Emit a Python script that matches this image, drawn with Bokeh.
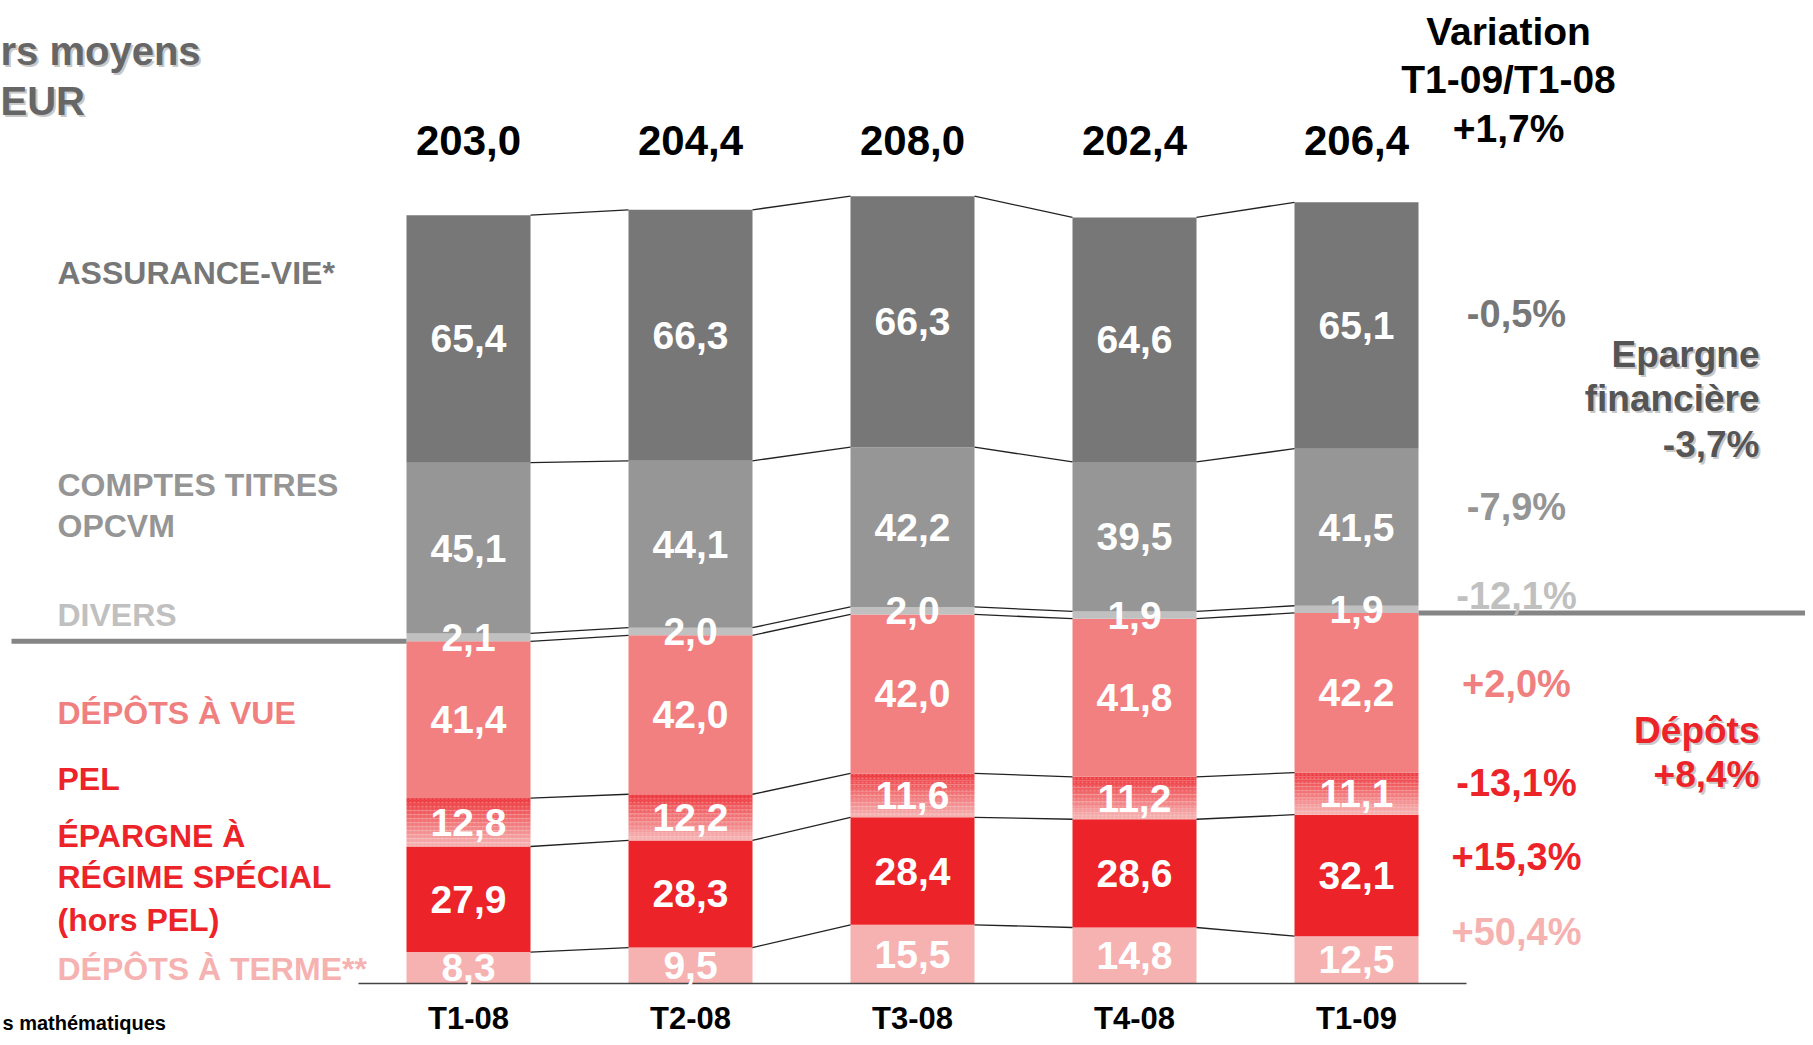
from bokeh.plotting import figure
from bokeh.models import ColumnDataSource, Range1d
from bokeh.core.properties import value
from bokeh.embed import file_html
from bokeh.resources import INLINE

# ---------------- data ----------------
quarters = ["T1-08", "T2-08", "T3-08", "T4-08", "T1-09"]
totals = [203.0, 204.4, 208.0, 202.4, 206.4]
depots_terme = [8.3, 9.5, 15.5, 14.8, 12.5]
epargne_speciale = [27.9, 28.3, 28.4, 28.6, 32.1]
pel = [12.8, 12.2, 11.6, 11.2, 11.1]
depots_vue = [41.4, 42.0, 42.0, 41.8, 42.2]
divers = [2.1, 2.0, 2.0, 1.9, 1.9]
comptes_titres = [45.1, 44.1, 42.2, 39.5, 41.5]
assurance_vie = [65.4, 66.3, 66.3, 64.6, 65.1]

series_names = ["DÉPÔTS À TERME**", "ÉPARGNE À RÉGIME SPÉCIAL (hors PEL)", "PEL",
                "DÉPÔTS À VUE", "DIVERS", "COMPTES TITRES OPCVM", "ASSURANCE-VIE*"]
series_values = [depots_terme, epargne_speciale, pel, depots_vue, divers,
                 comptes_titres, assurance_vie]
series_variation = ["+50,4%", "+15,3%", "-13,1%", "+2,0%", "-12,1%", "-7,9%", "-0,5%"]
total_variation = "+1,7%"
epargne_fin_variation = "-3,7%"
depots_variation = "+8,4%"

# ---------------- styling ----------------
series_colors = ["#f6b1b1", "#ec2329", None, "#f28080", "#c0c0c0", "#969696", "#777777"]
label_colors = ["#f6b1b1", "#ec2329", "#ec2329", "#f08080", "#c0c0c0", "#959595", "#777777"]
RED = "#ec2329"
W, H = 1805, 1037                 # figure size (fits the window with the page margin)
PXU_X, PXU_Y = 222.0, 3.785
OX, OY = 468.0, 983.0             # pixel position of (x=0, y=0)
X0, X1 = (0 - OX) / PXU_X, (W - OX) / PXU_X
Y1, Y0 = OY / PXU_Y, (OY - H) / PXU_Y
BAR_W = 124 / PXU_X

def sx(px):
    return (px - OX) / PXU_X

def sy(py):
    return (OY - py) / PXU_Y

BOLD = value("Liberation Sans")

p = figure(width=W, height=H, x_range=Range1d(X0, X1), y_range=Range1d(Y0, Y1),
           output_backend="svg", toolbar_location=None, min_border=0)
p.axis.visible = False
p.grid.visible = False
p.outline_line_color = None
p.background_fill_color = "white"
p.border_fill_color = "white"

xs = list(range(len(quarters)))

# cumulative stacks
bottoms, tops = [], []
run = [0.0] * len(quarters)
for vals in series_values:
    b = run[:]
    t = [a + v for a, v in zip(run, vals)]
    bottoms.append(b)
    tops.append(t)
    run = t

# ---------------- bars ----------------
def lerp(c1, c2, f):
    a = [int(c1[i:i + 2], 16) for i in (1, 3, 5)]
    b = [int(c2[i:i + 2], 16) for i in (1, 3, 5)]
    return "#%02x%02x%02x" % tuple(round(a[k] + (b[k] - a[k]) * f) for k in range(3))

for k, vals in enumerate(series_values):
    if series_colors[k] is not None:
        src = ColumnDataSource(dict(x=xs, bottom=bottoms[k], top=tops[k]))
        p.vbar(x="x", width=BAR_W, bottom="bottom", top="top", source=src,
               fill_color=series_colors[k], line_color=None)
    else:
        n = 12
        for j in range(n):
            bb = [b + (t - b) * j / n for b, t in zip(bottoms[k], tops[k])]
            tt = [b + (t - b) * (j + 1) / n for b, t in zip(bottoms[k], tops[k])]
            col = lerp("#f6b4b4", "#ee3a3f", (j + 0.5) / n)
            src = ColumnDataSource(dict(x=xs, bottom=bb, top=tt))
            p.vbar(x="x", width=BAR_W, bottom="bottom", top="top", source=src,
                   fill_color=col, line_color=None, hatch_pattern="dot",
                   hatch_color="#ffffff", hatch_alpha=0.22, hatch_scale=4)

# connector lines between bars
cx0, cy0, cx1, cy1 = [], [], [], []
for k in range(len(series_values)):
    for i in range(len(quarters) - 1):
        cx0.append(xs[i] + BAR_W / 2)
        cy0.append(tops[k][i])
        cx1.append(xs[i + 1] - BAR_W / 2)
        cy1.append(tops[k][i + 1])
p.segment(x0=cx0, y0=cy0, x1=cx1, y1=cy1, line_color="#222222", line_width=1.3)

# baseline
p.segment(x0=[sx(358)], y0=[0], x1=[sx(1466)], y1=[0], line_color="#444444", line_width=1.6)

# grey separator between financial savings and deposits
dep_top = tops[3]
p.segment(x0=[sx(11), xs[-1] + BAR_W / 2], y0=[dep_top[0], dep_top[-1]],
          x1=[xs[0] - BAR_W / 2, X1], y1=[dep_top[0], dep_top[-1]],
          line_color="#858585", line_width=5)

# ---------------- value labels in bars ----------------
def fmt(v):
    return ("%.1f" % v).replace(".", ",")

lx, ly, lt = [], [], []
for k, vals in enumerate(series_values):
    for i, v in enumerate(vals):
        lx.append(xs[i])
        ly.append((bottoms[k][i] + tops[k][i]) / 2)
        lt.append(fmt(v))
p.text(x=lx, y=ly, text=lt, text_color="white", text_font=BOLD,
       text_font_style="bold", text_font_size="39px", text_align="center",
       text_baseline="middle")

# totals above bars
p.text(x=xs, y=[sy(140)] * len(xs), text=[fmt(t) for t in totals], text_color="black",
       text_font=BOLD, text_font_style="bold", text_font_size="42px",
       text_align="center", text_baseline="middle")

# quarter labels
p.text(x=xs, y=[sy(1018)] * len(xs), text=quarters, text_color="black",
       text_font=BOLD, text_font_style="bold", text_font_size="31px",
       text_align="center", text_baseline="middle")

# ---------------- left category labels ----------------
left_lines = [
    ("ASSURANCE-VIE*", 272, label_colors[6]),
    ("COMPTES TITRES", 484, label_colors[5]),
    ("OPCVM", 525, label_colors[5]),
    ("DIVERS", 614, label_colors[4]),
    ("DÉPÔTS À VUE", 712, label_colors[3]),
    ("PEL", 778, label_colors[2]),
    ("ÉPARGNE À", 835, label_colors[1]),
    ("RÉGIME SPÉCIAL", 876, label_colors[1]),
    ("(hors PEL)", 919, label_colors[1]),
    ("DÉPÔTS À TERME**", 968, label_colors[0]),
]
p.text(x=[sx(57)] * len(left_lines), y=[sy(l[1]) for l in left_lines],
       text=[l[0] for l in left_lines], text_color=[l[2] for l in left_lines],
       text_font=BOLD, text_font_style="bold", text_font_size="32px",
       text_align="left", text_baseline="middle")

# ---------------- right variation column ----------------
var_y = [931, 856, 782, 683, 595, 506, 313]
p.text(x=[sx(1516)] * len(var_y), y=[sy(v) for v in var_y], text=series_variation,
       text_color=label_colors, text_font=BOLD, text_font_style="bold",
       text_font_size="38px", text_align="center", text_baseline="middle")

head = [("Variation", 31), ("T1-09/T1-08", 79), (total_variation, 128)]
p.text(x=[sx(1508)] * 3, y=[sy(h[1]) for h in head], text=[h[0] for h in head],
       text_color="black", text_font=BOLD, text_font_style="bold",
       text_font_size="39px", text_align="center", text_baseline="middle")

# ---------------- shadowed annotations ----------------
def shadow_text(lines, color, size, align, x_px):
    for dx, dy, col in ((2, 2, "#c8c8c8"), (0, 0, color)):
        p.text(x=[sx(x_px + dx)] * len(lines), y=[sy(l[1] + dy) for l in lines],
               text=[l[0] for l in lines], text_color=col, text_font=BOLD,
               text_font_style="bold", text_font_size=size, text_align=align,
               text_baseline="middle")

shadow_text([("rs moyens", 50), ("EUR", 100)], "#666666", "40px", "left", 0)
shadow_text([("Epargne", 354), ("financière", 398), (epargne_fin_variation, 444)],
            "#555555", "37px", "right", 1759)
shadow_text([("Dépôts", 730), (depots_variation, 774)], RED, "37px", "right", 1759)

# footnote at the bottom edge
p.text(x=[sx(2)], y=[sy(1022)], text=["s mathématiques"], text_color="black",
       text_font=BOLD, text_font_style="bold", text_font_size="20px",
       text_align="left", text_baseline="middle")

open("out.html", "w").write(file_html(p, INLINE))
